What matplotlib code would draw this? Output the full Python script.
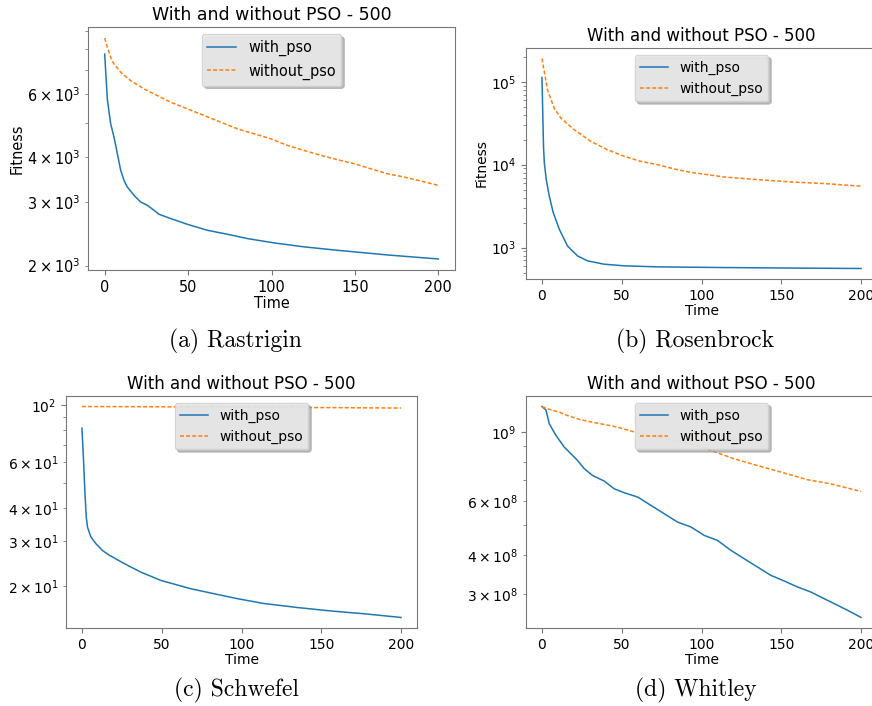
import matplotlib
matplotlib.use('Agg')
import matplotlib.pyplot as plt

# Rastrigin
ras_x_with = [0, 1.6, 3.6, 5.6, 7.6, 9.6, 11.6, 13.6, 17.6, 21.6, 25.6, 29.6, 32.6, 39.6, 49.6,
              61.6, 73.6, 85.6, 101.6, 119.6, 139.6, 169.6, 189.6, 200]
ras_with = [7762, 5800, 4961, 4556, 4096, 3682, 3452, 3308, 3137, 3006, 2943, 2850, 2779, 2703, 2606,
            2508, 2445, 2378, 2313, 2255, 2206, 2141, 2105, 2087]
ras_x_without = [0, 1.6, 3.6, 5.6, 9.6, 15.6, 23.6, 31.6, 39.6, 49.6, 59.6, 69.6, 79.6, 89.6, 99.6,
                 109.6, 119.6, 129.6, 139.6, 149.6, 159.6, 169.6, 179.6, 189.6, 200]
ras_without = [8600, 8101, 7600, 7282, 6903, 6546, 6205, 5946, 5698, 5461, 5233, 5014, 4806, 4655, 4508,
               4320, 4184, 4053, 3942, 3842, 3720, 3603, 3527, 3438, 3344]

# Rosenbrock
ros_x_with = [0, 1, 1.5, 2.7, 4.6, 7.1, 10.9, 16, 22.3, 28.6, 39, 51.6, 72.4, 114, 150, 200]
ros_with = [112700, 16000, 10470, 6607, 4169, 2630, 1660, 1047, 794, 692, 631, 603, 586, 575, 568, 560]
ros_x_without = [0, 3.5, 7.7, 11.9, 20.3, 30.7, 41, 51.6, 62, 72.4, 83, 93, 114, 135, 156, 177, 200]
ros_without = [190500, 79400, 47900, 36300, 26300, 19050, 15140, 12590, 10960, 10000, 8870, 8090,
               7110, 6610, 6190, 5920, 5500]

# Schwefel
sch_x_with = [0, 1, 1.9, 2.7, 3.5, 5.6, 8.8, 12.9, 17.1, 26.5, 37, 49.5, 68.3, 82.9, 97.5, 114,
              135, 156, 177, 200]
sch_with = [81.3, 61.1, 45.5, 37.0, 33.8, 31.0, 29.2, 27.5, 26.4, 24.5, 22.7, 21.1, 19.6, 18.75,
            17.95, 17.2, 16.6, 16.1, 15.7, 15.2]
sch_x_without = [0, 50, 100, 150, 200]
sch_without = [98.5, 98.3, 98.0, 97.6, 97.2]

# Whitley
whi_x_with = [0, 2.5, 4.6, 8.8, 14, 18.2, 22.3, 26.5, 31.7, 39, 45.3, 51.6, 60, 68.3, 76.6, 85, 93.3,
              101.7, 110, 118.4, 126.7, 135, 143.4, 151.8, 160.1, 168.5, 176.8, 185.2, 193.5, 200]
whi_with = [1.21e9, 1.18e9, 1.064e9, 0.9755e9, 0.8946e9, 0.851e9, 0.81e9, 0.762e9, 0.7245e9, 0.695e9,
            0.656e9, 0.637e9, 0.617e9, 0.58e9, 0.545e9, 0.512e9, 0.494e9, 0.4637e9, 0.447e9, 0.415e9,
            0.39e9, 0.3667e9, 0.3446e9, 0.3304e9, 0.316e9, 0.3043e9, 0.2897e9, 0.2758e9, 0.2624e9,
            0.2518e9]
whi_x_without = [0, 3.5, 10.9, 16, 24.4, 34.9, 47.4, 62, 76.6, 93.3, 105.8, 120.5, 135, 151.8,
                 166.4, 180.8, 200]
whi_without = [1.21e9, 1.19e9, 1.16e9, 1.132e9, 1.096e9, 1.069e9, 1.038e9, 0.9877e9, 0.952e9,
               0.917e9, 0.873e9, 0.82e9, 0.78e9, 0.738e9, 0.702e9, 0.681e9, 0.643e9]

panels = [
    ('(a) Rastrigin', ras_x_with, ras_with, ras_x_without, ras_without, True),
    ('(b) Rosenbrock', ros_x_with, ros_with, ros_x_without, ros_without, True),
    ('(c) Schwefel', sch_x_with, sch_with, sch_x_without, sch_without, False),
    ('(d) Whitley', whi_x_with, whi_with, whi_x_without, whi_without, False),
]

W, H = 872, 706
# axes boxes in pixels: left, top, right, bottom
boxes = [(88, 27, 455, 270), (526, 48, 877, 279), (66, 396, 417, 628), (526, 396, 877, 628)]
captions_xy = [(235, 341), (695, 341), (236, 690), (696, 690)]
scale = [1.045, 1.0, 1.0, 1.0]

fig = plt.figure(figsize=(W / 100, H / 100), dpi=100)

for i, (cap, xw, yw, xo, yo, ylab) in enumerate(panels):
    l, t, r, b = boxes[i]
    s = scale[i]
    ax = fig.add_axes([l / W, 1 - b / H, (r - l) / W, (b - t) / H])
    ax.plot(xw, yw, color='#1f77b4', lw=1.1, label='with_pso')
    ax.plot(xo, yo, color='#ff7f0e', lw=1.1, ls=(0, (2.6, 1.4)), label='without_pso')
    ax.set_yscale('log')
    ax.set_title('With and without PSO - 500', fontsize=12 * s, pad=5)
    ax.set_xlabel('Time', fontsize=10 * s, labelpad=1)
    if ylab:
        ax.set_ylabel('Fitness', fontsize=10 * s, labelpad=2)
    ax.set_xticks([0, 50, 100, 150, 200])
    ax.tick_params(which='both', labelsize=10 * s, color='#777777')
    for sp in ax.spines.values():
        sp.set_color('#777777')
    leg = ax.legend(loc='upper center', fontsize=10 * s, facecolor='#ebebeb', framealpha=0.85,
                    edgecolor='#d0d0d0', shadow={'color': '0.6', 'alpha': 0.6})
    cx, cy = captions_xy[i]
    fig.text(cx / W, 1 - cy / H, cap, family='cmr10', fontsize=17, ha='center', va='center')

fig.savefig('out.png', dpi=100)
